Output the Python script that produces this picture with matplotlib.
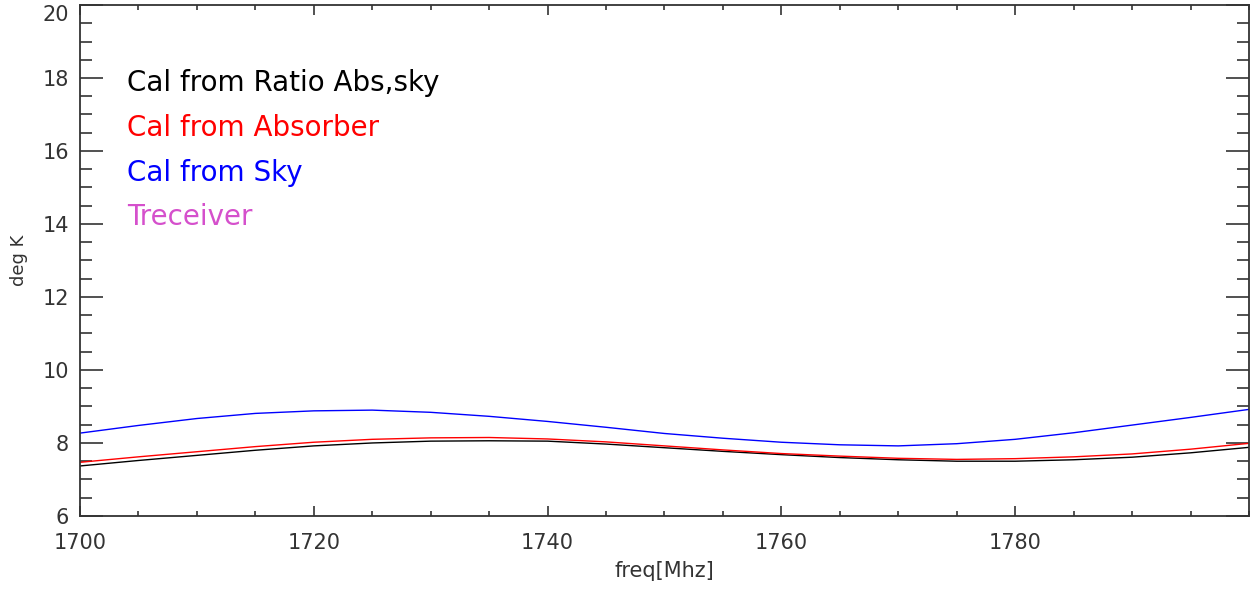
import matplotlib
matplotlib.use("Agg")
import matplotlib.pyplot as plt
from matplotlib.ticker import MultipleLocator

# frequency grid (MHz) and the three calibration curves (deg K)
freq = [1700, 1705, 1710, 1715, 1720, 1725, 1730, 1735, 1740, 1745, 1750,
        1755, 1760, 1765, 1770, 1775, 1780, 1785, 1790, 1795, 1800]
cal_sky = [8.27, 8.48, 8.67, 8.81, 8.88, 8.90, 8.84, 8.73, 8.59, 8.43, 8.26,
           8.13, 8.02, 7.95, 7.92, 7.98, 8.10, 8.28, 8.49, 8.70, 8.92]
cal_abs = [7.47, 7.62, 7.76, 7.90, 8.02, 8.10, 8.14, 8.15, 8.11, 8.03, 7.92,
           7.81, 7.71, 7.64, 7.58, 7.55, 7.57, 7.62, 7.70, 7.83, 7.99]
cal_ratio = [7.37, 7.52, 7.66, 7.80, 7.92, 8.00, 8.05, 8.06, 8.05, 7.97, 7.87,
             7.77, 7.68, 7.60, 7.54, 7.50, 7.50, 7.54, 7.61, 7.73, 7.88]

labels = ["Cal from Ratio Abs,sky", "Cal from Absorber", "Cal from Sky", "Treceiver"]
label_colors = ["black", "red", "blue", "#d550cc"]
xticks = [1700, 1720, 1740, 1760, 1780]
yticks = [6, 8, 10, 12, 14, 16, 18, 20]

fig = plt.figure(figsize=(12.55, 5.89), dpi=100)
ax = fig.add_axes([0.0637, 0.124, 0.9315, 0.8675])

ax.plot(freq, cal_ratio, color="black", lw=1.0)
ax.plot(freq, cal_abs, color="red", lw=1.0)
ax.plot(freq, cal_sky, color="blue", lw=1.0)

ax.set_xlim(1700, 1800)
ax.set_ylim(6, 20)
ax.set_xticks(xticks)
ax.set_yticks(yticks)
ax.xaxis.set_minor_locator(MultipleLocator(5))
ax.yaxis.set_minor_locator(MultipleLocator(0.5))
ax.tick_params(which="both", direction="in", top=True, right=True,
               colors="#333333", labelcolor="#333333", labelsize=15, width=1.2)
ax.tick_params(axis="y", which="major", length=16.5, pad=8)
ax.tick_params(axis="y", which="minor", length=8.5)
ax.tick_params(axis="x", which="major", length=7, pad=12)
ax.tick_params(axis="x", which="minor", length=3.6)
for s in ax.spines.values():
    s.set_color("#333333")
    s.set_linewidth(1.3)

# top label sits below its tick so it stays inside the figure
fig.canvas.draw()
ax.get_yticklabels()[-1].set_va("top")

ax.set_xlabel("freq[Mhz]", fontsize=15, color="#333333", labelpad=6)
ax.set_ylabel("deg K", fontsize=13, color="#333333", labelpad=10)

for i in range(len(labels)):
    ax.text(1704, 17.85 - i * 1.22, labels[i], color=label_colors[i],
            fontsize=20, va="center", ha="left")

fig.savefig("out.png")
